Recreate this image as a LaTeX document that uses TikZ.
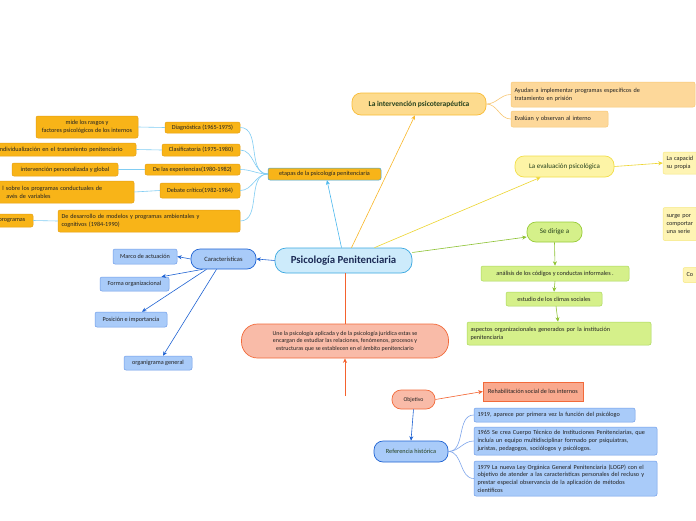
\documentclass[tikz,border=0pt]{standalone}
\usepackage{fontspec}
\setmainfont{Carlito}
\usetikzlibrary{arrows.meta}
\definecolor{txt}{HTML}{222222}
\definecolor{txtg}{HTML}{24401C}
\definecolor{cenfill}{HTML}{CDEBFB}
\definecolor{cenedge}{HTML}{3AA8E0}
\definecolor{centxt}{HTML}{1B2A55}
\definecolor{skyline}{HTML}{4BB8EE}
\definecolor{stagefill}{HTML}{F8B418}
\definecolor{stageedge}{HTML}{E59E10}
\definecolor{psyfill}{HTML}{FDDB8E}
\definecolor{psyedge}{HTML}{F9BC36}
\definecolor{psyline}{HTML}{F9B82A}
\definecolor{psysub}{HTML}{FDD89A}
\definecolor{psysubedge}{HTML}{F8C774}
\definecolor{evafill}{HTML}{FDF4A6}
\definecolor{evaedge}{HTML}{F2DE4A}
\definecolor{evaline}{HTML}{EDD52F}
\definecolor{evasub}{HTML}{FEF4B4}
\definecolor{dirfill}{HTML}{D5F08A}
\definecolor{diredge}{HTML}{99CC3A}
\definecolor{dirline}{HTML}{8DC232}
\definecolor{dirsubedge}{HTML}{A8D85A}
\definecolor{carfill}{HTML}{A9CBF9}
\definecolor{caredge}{HTML}{1F63D3}
\definecolor{carsubedge}{HTML}{6E9CE8}
\definecolor{hisline}{HTML}{7FA6EC}
\definecolor{unefill}{HTML}{F9BBA8}
\definecolor{uneedge}{HTML}{F26A3A}
\definecolor{uneline}{HTML}{F4622E}
\definecolor{rehfill}{HTML}{F9A98E}
\begin{document}
\begin{tikzpicture}[x=1pt,y=-1pt,line width=0.6pt,
	box/.style={draw,line width=0.5pt,rounded corners=2pt,inner sep=1.5pt,text=txt,font=\fontsize{6.2}{7.8}\selectfont},
	pill/.style={draw,line width=0.7pt,rounded corners=9pt,inner sep=1.5pt,font=\fontsize{6.5}{8}\selectfont},
	sz/.style 2 args={minimum width=#1pt,minimum height=#2pt},
	lft/.style={align=left,text width=#1pt},
	stagebox/.style={box,fill=stagefill,draw=stageedge},
	bluebox/.style={box,fill=carfill,draw=carsubedge},
	greenbox/.style={box,fill=dirfill,draw=dirsubedge},
	yellowbox/.style={box,fill=evasub,draw=evaedge!70},
	tip/.style={-{Stealth[length=4.5pt,width=4pt]}}]
	\useasboundingbox (0,0) rectangle (696,520);
	\clip (0,0) rectangle (696,520);
	\fill[white] (0,0) rectangle (696,520);

	\node[pill,fill=cenfill,draw=cenedge,text=centxt,sz={137}{25},rounded corners=11pt,font=\fontsize{10.8}{12}\selectfont\bfseries] (central) at (343.5,260.5) {Psicología Penitenciaria};

	\node[box,fill=stagefill,draw=cenedge,sz={113}{12},inner sep=0.5pt] (etapas) at (324.5,174) {etapas de la psicología penitenciaria};
	\node[stagebox,sz={75}{11}] (diag) at (202.5,127.5) {Diagnóstica (1965-1975)};
	\node[stagebox,sz={78}{12}] (clasif) at (201,150) {Clasificatoria (1975-1980)};
	\node[stagebox,sz={95}{11}] (exper) at (192.5,169.5) {De las experiencias(1980-1982)};
	\node[stagebox,sz={80}{15}] (debate) at (200,190.5) {Debate crítico(1982-1984)};
	\node[stagebox,sz={182}{22},lft=175] (desarr) at (149,221) {De desarrollo de modelos y programas ambientales y\\cognitivos (1984-1990)};
	\node[stagebox,sz={102}{22},align=center] (mide) at (87,127) {mide los rasgos y\\factores psicológicos de los internos};
	\node[stagebox,sz={141}{13},lft=134] (indiv) at (65.5,149.5) {individualización en el tratamiento penitenciario};
	\node[stagebox,sz={106}{13}] (interv) at (65,169.5) {intervención personalizada y global};
	\node[stagebox,sz={148}{22},lft=141] (control) at (60,192) {\hspace*{13pt}l sobre los programas conductuales de\\\hspace*{17pt}avés de variables};
	\node[stagebox,sz={40}{13},lft=33] (progr) at (13,220.5) {\hspace*{2pt}programas};

	\draw[skyline,tip] ([xshift=-2pt]central.north) -- ([xshift=2.5pt]etapas.south);
	\foreach \s in {diag,clasif,exper,debate,desarr}
		\draw[skyline!70] (etapas.west) to[out=180,in=0] (\s.east);
	\draw[skyline!70] (diag.west) -- (mide.east);
	\draw[skyline!70] (clasif.west) -- (indiv.east);
	\draw[skyline!70] (exper.west) -- (interv.east);
	\draw[skyline!70] (debate.west) -- (control.east);
	\draw[skyline!70] (desarr.west) -- (progr.east);

	\node[pill,fill=psyfill,draw=psyedge,text=txtg,sz={134}{22},font=\fontsize{7.5}{9}\selectfont\bfseries] (psico) at (419,104) {La intervención psicoterapéutica};
	\node[box,fill=psysub,draw=psysubedge,sz={184}{25},lft=177] (ayudan) at (603,94.5) {Ayudan a implementar programas específicos de\\tratamiento en prisión};
	\node[box,fill=psysub,draw=psysubedge,sz={97}{16},lft=90] (evaluan) at (559.5,119) {Evalúan y observan al interno};
	\draw[psyline,tip] ([xshift=8pt]central.north) -- ([xshift=-4pt]psico.south);
	\draw[psysubedge] (psico.east) to[out=0,in=180] (ayudan.west);
	\draw[psysubedge] (psico.east) to[out=0,in=180] (evaluan.west);

	\node[pill,fill=evafill,draw=evaedge,text=txtg,sz={99}{21},font=\fontsize{7}{8}\selectfont] (evalua) at (564.5,166.5) {La evaluación psicológica};
	\node[yellowbox,sz={80}{22},lft=73] (capac) at (703,163) {La capacid\\su propia};
	\node[yellowbox,sz={80}{33},lft=73] (surge) at (703,224) {surge por\\comportar\\una serie};
	\node[yellowbox,sz={60}{15},lft=53] (co) at (713,275) {Co};
	\draw[evaline,tip] ([xshift=31pt]central.north) -- ([xshift=-24pt]evalua.south);
	\draw[evaline,tip] (evalua.east) -- (capac.west);

	\node[pill,fill=dirfill,draw=diredge,text=txtg,sz={55}{20},font=\fontsize{7}{8}\selectfont] (dirige) at (554.5,232) {Se dirige a};
	\node[greenbox,sz={148}{15}] (analisis) at (555,273.5) {análisis de los códigos y conductas informales .};
	\node[greenbox,sz={96}{14}] (estudio) at (554,299) {estudio de los climas sociales};
	\node[greenbox,sz={184}{23},lft=177] (aspectos) at (559,333.5) {aspectos organizacionales generados por la institución\\penitenciaria};
	\draw[dirline,tip] ([yshift=8pt]central.east) -- ([yshift=-5pt]dirige.west);
	\draw[dirline,tip] (dirige.south) -- (analisis.north);
	\draw[dirline,tip] (analisis.south) -- (estudio.north);
	\draw[dirline,tip] ([xshift=2pt]estudio.south) -- ([xshift=-1pt]aspectos.north);

	\node[pill,fill=carfill,draw=caredge,text=txt,sz={65}{20},font=\fontsize{6.5}{8}\selectfont] (car) at (223.5,259) {Características};
	\node[bluebox,sz={64}{15}] (marco) at (145,256.5) {Marco de actuación};
	\node[bluebox,sz={69}{14}] (forma) at (134.5,284) {Forma organizacional};
	\node[bluebox,sz={72}{15}] (posicion) at (131,319.5) {Posición e importancia};
	\node[bluebox,sz={68}{14}] (organi) at (158,363) {organigrama general};
	\draw[caredge,tip] (central.west) -- (car.east);
	\draw[caredge,tip] (car.west) -- (marco.east);
	\draw[caredge,tip] ([xshift=-21pt]car.south) -- ([xshift=27pt]forma.north);
	\draw[caredge,tip] ([xshift=-17pt]car.south) -- ([xshift=11pt]posicion.north);
	\draw[caredge,tip] ([xshift=-7pt]car.south) -- ([xshift=5pt]organi.north);

	\node[pill,fill=unefill,draw=uneedge,text=txt,sz={207}{34},rounded corners=16pt,align=center,font=\fontsize{6}{7.5}\selectfont] (une) at (345,341) {Une la psicología aplicada y de la psicología jurídica estas se\\encargan de estudiar las relaciones, fenómenos, procesos y\\estructuras que se establecen en el ámbito penitenciario};
	\coordinate (tail) at (345,396);
	\draw[uneline,line width=1pt] (une.north |- central.south) -- (une.north);
	\draw[uneline,line width=1pt,tip] (tail) -- (une.south);

	\node[pill,fill=unefill,draw=uneedge,text=txt,sz={43}{19},font=\fontsize{5.8}{7}\selectfont] (obj) at (413.5,399.5) {Objetivo};
	\node[box,rounded corners=0pt,fill=rehfill,draw=uneedge,sz={100}{19}] (rehab) at (533,391.5) {Rehabilitación social de los internos};
	\node[pill,fill=carfill,draw=caredge,text=txtg,sz={74}{21},font=\fontsize{6.3}{8}\selectfont] (ref) at (411,451.5) {Referencia histórica};
	\draw[uneline,tip] (obj.east) -- (rehab.west);
	\draw[caredge,tip] (obj.south) -- (ref.north);

	\node[bluebox,sz={161}{14},lft=154] (h1919) at (554.5,415) {1919, aparece por primera vez la función del psicólogo};
	\node[bluebox,sz={183}{28},lft=176] (h1965) at (565.5,441) {1965 Se crea Cuerpo Técnico de Instituciones Penitenciarias, que\\incluía un equipo multidisciplinar formado por psiquiatras,\\juristas, pedagogos, sociólogos y psicólogos.};
	\node[bluebox,sz={183}{35},lft=176] (h1979) at (565.5,478.5) {1979 La nueva Ley Orgánica General Penitenciaria (LOGP) con el\\objetivo de atender a las características personales del recluso y\\prestar especial observancia de la aplicación de métodos\\científicos};
	\foreach \h in {h1919,h1965,h1979}
		\draw[hisline] (ref.east) to[out=0,in=180] (\h.west);
\end{tikzpicture}
\end{document}
